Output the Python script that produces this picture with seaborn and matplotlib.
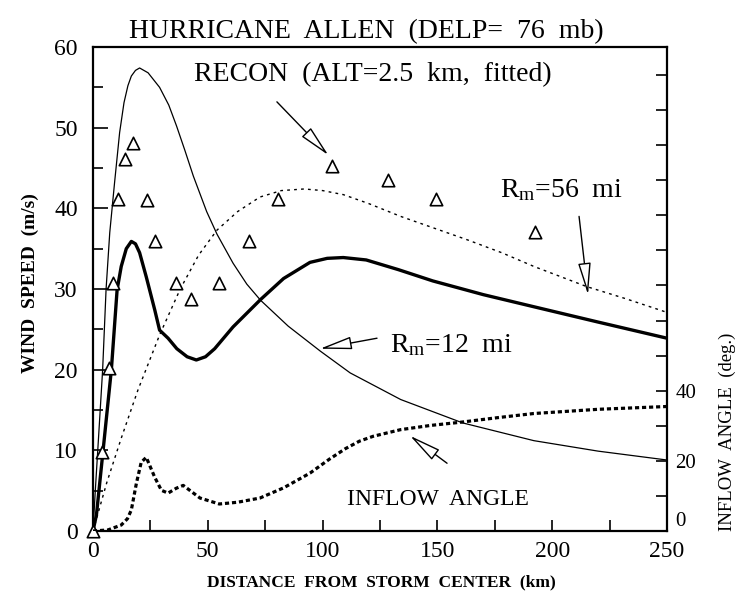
import matplotlib
matplotlib.use("Agg")
import matplotlib.pyplot as plt
import seaborn as sns
import pandas as pd
from matplotlib.ticker import MultipleLocator, FixedLocator

# ---------------- data ----------------
dist_rm12 = [0, 1.0, 2.5, 4.2, 5.7, 7.3, 9.4, 11.6, 13.5, 15.2, 16.7, 18.5, 20.3, 24.0,
             29.0, 33.0, 36.4, 40.0, 43.7, 49.5, 54.0, 61.0, 67.0, 73.0, 85.0, 99.0,
             112.0, 134.0, 161.0, 192.0, 220.0, 250.0]
wind_rm12 = [0, 5.0, 12.0, 20.0, 30.0, 37.0, 43.2, 49.4, 53.1, 55.2, 56.4, 57.1, 57.4, 56.8,
             55.0, 52.8, 50.2, 47.2, 44.0, 39.6, 36.8, 33.2, 30.6, 28.6, 25.4, 22.3,
             19.6, 16.3, 13.4, 11.2, 9.9, 8.8]

dist_avg = [0, 1.5, 4.4, 8.0, 10.5, 12.3, 14.5, 16.7, 18.5, 20.3, 23.2, 26.9, 29.0, 32.7,
            36.5, 41.0, 45.0, 49.0, 53.0, 61.0, 73.0, 83.0, 94.5, 102.0, 109.0, 119.0,
            133.0, 148.0, 170.0, 192.0, 220.0, 250.0]
wind_avg = [0, 2.0, 10.0, 20.0, 29.9, 32.8, 35.0, 35.9, 35.6, 34.5, 31.5, 27.4, 24.9, 23.9,
            22.6, 21.6, 21.2, 21.6, 22.6, 25.3, 28.7, 31.3, 33.3, 33.8, 33.9, 33.6,
            32.4, 31.0, 29.3, 27.8, 25.9, 23.9]

dist_rm56 = [0, 6.0, 12.3, 19.6, 29.0, 38.0, 46.0, 54.0, 63.0, 72.7, 82.0, 92.0, 100.0,
             109.0, 120.0, 134.0, 148.0, 163.0, 178.0, 192.0, 215.0, 232.0, 250.0]
wind_rm56 = [0, 6.0, 11.5, 17.5, 24.3, 30.0, 34.2, 37.3, 39.6, 41.4, 42.2, 42.4, 42.2,
             41.7, 40.6, 39.0, 37.6, 36.1, 34.5, 32.8, 30.3, 28.8, 27.1]

dist_inflow = [0, 6.5, 12.3, 15.0, 16.7, 18.9, 21.0, 23.2, 26.9, 29.8, 32.7, 36.3, 39.3,
               46.6, 55.0, 63.0, 72.7, 83.0, 94.5, 103.0, 110.0, 116.0, 122.0, 134.0,
               147.0, 160.0, 176.0, 192.0, 220.0, 250.0]
inflow_deg = [0, 0.3, 1.7, 3.5, 6.0, 13.6, 19.6, 21.0, 15.3, 11.6, 10.8, 12.2, 13.0,
              9.4, 7.7, 8.2, 9.4, 12.3, 16.5, 20.5, 23.5, 25.6, 27.0, 28.9,
              30.1, 31.0, 32.3, 33.5, 34.7, 35.5]

recon_dist = [0, 3.8, 7.1, 8.8, 11.0, 13.9, 17.3, 23.4, 27.0, 36.1, 42.5, 55.0, 68.0,
              80.7, 104.0, 128.6, 149.4, 192.5]
recon_wind = [0, 9.8, 20.2, 30.7, 41.1, 46.1, 48.1, 41.0, 35.9, 30.7, 28.7, 30.7, 35.9,
              41.1, 45.2, 43.5, 41.1, 37.1]

x_ticks = [0, 50, 100, 150, 200, 250]
y_ticks = [0, 10, 20, 30, 40, 50, 60]
angle_ticks = [0, 20, 40]

title = "HURRICANE  ALLEN  (DELP=  76  mb)"
xlabel = "DISTANCE  FROM  STORM  CENTER  (km)"
ylabel = "WIND  SPEED  (m/s)"
ylabel2 = "INFLOW  ANGLE  (deg.)"

# ---------------- style ----------------
sns.set_theme(style="white")
plt.rcParams["font.family"] = ["Liberation Serif", "DejaVu Serif"]
plt.rcParams["mathtext.fontset"] = "custom"
plt.rcParams["mathtext.rm"] = "Liberation Serif"
plt.rcParams["mathtext.it"] = "Liberation Serif:italic"
plt.rcParams["mathtext.bf"] = "Liberation Serif:bold"

fig = plt.figure(figsize=(7.51, 5.96), dpi=100)
W, H = 751, 596
ax = fig.add_axes([93 / W, 65 / H, 574 / W, 484 / H])

df12 = pd.DataFrame({"d": dist_rm12, "v": wind_rm12})
dfa = pd.DataFrame({"d": dist_avg, "v": wind_avg})
df56 = pd.DataFrame({"d": dist_rm56, "v": wind_rm56})
dfr = pd.DataFrame({"d": recon_dist, "v": recon_wind})
dfi = pd.DataFrame({"d": dist_inflow, "a": inflow_deg})

sns.lineplot(data=df12, x="d", y="v", ax=ax, color="black", lw=0.9,
             estimator=None, sort=False)
sns.lineplot(data=dfa, x="d", y="v", ax=ax, color="black", lw=2.4,
             estimator=None, sort=False)
sns.lineplot(data=df56, x="d", y="v", ax=ax, color="black", lw=1.0,
             linestyle=(0, (2.0, 3.0)), estimator=None, sort=False)
sns.scatterplot(data=dfr, x="d", y="v", ax=ax, marker="^", s=80,
                facecolor="white", edgecolor="black", linewidth=1.2, zorder=5,
                clip_on=False)

ax.set_xlim(0, 250)
ax.set_ylim(0, 60)
ax.set_xlabel("")
ax.set_ylabel("")
ax.xaxis.set_major_locator(FixedLocator(x_ticks))
ax.xaxis.set_minor_locator(MultipleLocator(25))
ax.yaxis.set_major_locator(FixedLocator(y_ticks))
ax.yaxis.set_minor_locator(MultipleLocator(5))
ax.set_xticklabels([str(t) for t in x_ticks])
ax.set_yticklabels([str(t) for t in y_ticks])
ax.tick_params(axis="both", which="both", direction="in", color="black",
               labelcolor="black", width=1.2)
ax.tick_params(axis="x", which="both", length=8, pad=7, labelsize=17,
               top=False, bottom=True)
ax.tick_params(axis="y", which="major", length=11, pad=11, labelsize=17,
               left=True, right=False)
ax.tick_params(axis="y", which="minor", length=7, left=True, right=False)

for sp in ax.spines.values():
    sp.set_visible(True)
    sp.set_color("black")
    sp.set_linewidth(1.6)

ax2 = ax.twinx()
sns.lineplot(data=dfi, x="d", y="a", ax=ax2, color="black", lw=2.3,
             linestyle=(0, (1.3, 0.9)), estimator=None, sort=False)
ax2.set_ylim(0, 138)
ax2.set_xlim(0, 250)
ax2.set_ylabel("")
ax2.yaxis.set_major_locator(FixedLocator(angle_ticks))
ax2.yaxis.set_minor_locator(MultipleLocator(10))
ax2.set_yticklabels([str(t) for t in angle_ticks])
ax2.tick_params(axis="y", which="both", direction="in", length=8, width=1.2,
                color="black", labelcolor="black", labelsize=15, pad=6,
                right=True, left=False)
# the "0" of the angle scale sits just above its tick, clear of the "250"
ax2.yaxis.get_major_ticks()[0].label2.set_va("bottom")
for sp in ax2.spines.values():
    sp.set_visible(False)

# ---------------- annotations ----------------
arrow = dict(arrowstyle="-|>,head_length=1.1,head_width=0.22", fc="white",
             ec="black", lw=1.0, mutation_scale=18, shrinkA=0, shrinkB=0)

ax.text(122, 56.6, "RECON  (ALT=2.5  km,  fitted)", ha="center", va="center",
        fontsize=20, color="black")
ax.annotate("", xy=(102.5, 46.6), xytext=(80.1, 53.2), arrowprops=arrow)

ax.text(177.3, 41.4, r"R$_{\mathrm{m}}$=56  mi", ha="left", va="baseline",
        fontsize=20, color="black")
ax.annotate("", xy=(215.6, 29.3), xytext=(211.7, 39.0), arrowprops=arrow)

ax.text(129.4, 22.2, r"R$_{\mathrm{m}}$=12  mi", ha="left", va="baseline",
        fontsize=20, color="black")
ax.annotate("", xy=(98.9, 22.6), xytext=(123.7, 23.9), arrowprops=arrow)

ax.text(110.6, 3.2, "INFLOW  ANGLE", ha="left", va="baseline",
        fontsize=17, color="black")
ax.annotate("", xy=(138.1, 11.8), xytext=(154.2, 8.4), arrowprops=arrow)

fig.text(366.5 / W, 1 - 38 / H, title, ha="center", va="baseline",
         fontsize=20, color="black")
fig.text(381 / W, 1 - 582 / H, xlabel, ha="center", va="center",
         fontsize=12.5, fontweight="bold", color="black")
fig.text(30 / W, 1 - 283 / H, ylabel, ha="center", va="center",
         rotation=90, fontsize=14, fontweight="bold", color="black")
fig.text(727 / W, 1 - 432 / H, ylabel2, ha="center", va="center",
         rotation=90, fontsize=13.5, color="black")

fig.savefig("out.png", dpi=100, facecolor="white")
